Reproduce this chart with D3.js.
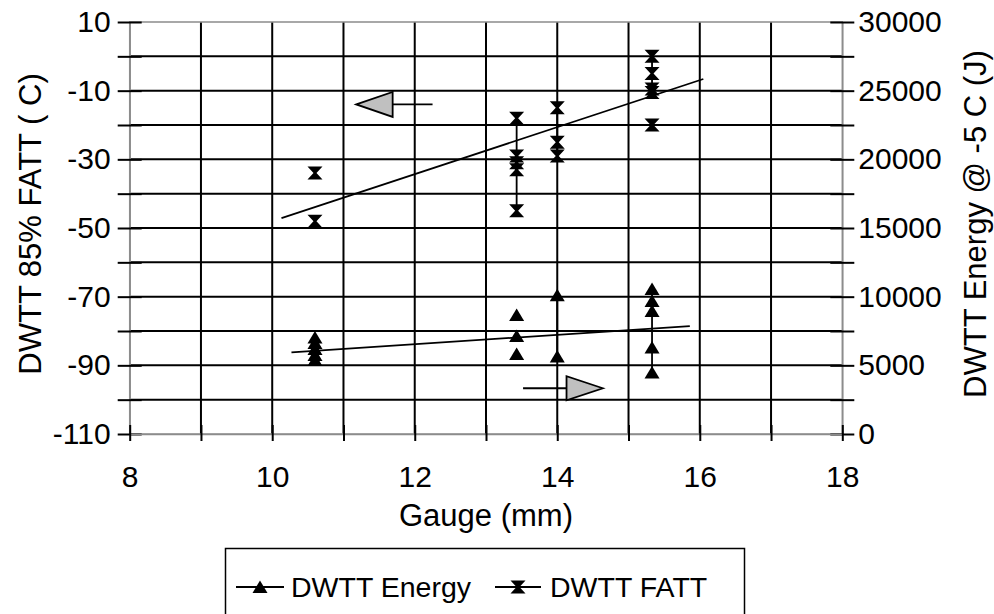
<!DOCTYPE html>
<html><head><meta charset="utf-8">
<script src="https://cdn.jsdelivr.net/npm/d3@7"></script>
<style>body{margin:0;background:#fff} text{font-family:"Liberation Sans",Arial,sans-serif;fill:#000}</style>
</head><body><svg id="c" width="994" height="614"></svg>
<script>
// ---------- data ----------
const xTickLabels = [8, 10, 12, 14, 16, 18];
const leftTickLabels = [-110, -90, -70, -50, -30, -10, 10];
const rightTickLabels = [0, 5000, 10000, 15000, 20000, 25000, 30000];

// DWTT FATT (left axis); null = break in the connecting line
const fattX = [10.6, null, 10.6, null, 13.43, 13.43, 13.43, 13.43, 13.43, null, 14.0, 14.0, 14.0, null, 15.33, 15.33, 15.33, 15.33, null, 15.33];
const fattY = [-34, null, -48, null, -18, -29, -31, -33, -45, null, -15, -25, -29, null, 0, -5, -9.5, -10.5, null, -20];

// DWTT Energy (right axis)
const energyX = [10.6, 10.6, 10.6, 10.6, 10.6, null, 13.43, null, 13.43, null, 13.43, null, 14.0, 14.0, null, 15.33, 15.33, 15.33, 15.33, 15.33];
const energyY = [7030, 6630, 6190, 5750, 5390, null, 8670, null, 7140, null, 5830, null, 10100, 5650, null, 10560, 9680, 8960, 6300, 4480];

// trend lines
const fattTrendX = [10.13, 16.05];
const fattTrendY = [-47.1, -6.6];
const energyTrendX = [10.27, 15.86];
const energyTrendY = [5950, 7860];

const seriesNames = ["DWTT Energy", "DWTT FATT"];

// ---------- chart ----------
const svg = d3.select("#c");
svg.append("rect").attr("width", 994).attr("height", 614).attr("fill", "#fff");

const L = 129.7, R = 842.3, T = 22, B = 434;
const x = d3.scaleLinear().domain([8, 18]).range([L, R]);
const yL = d3.scaleLinear().domain([-110, 10]).range([B, T]);
const yR = d3.scaleLinear().domain([0, 30000]).range([B, T]);

const FS_TICK = 30, FS_TITLE = 31, FS_LEG = 28.5;
const FONT = '"Liberation Sans", Arial, sans-serif';

// gridlines
const g = svg.append("g");
g.selectAll(".vg").data(d3.range(9, 18)).join("line")
  .attr("x1", d => x(d)).attr("x2", d => x(d)).attr("y1", T).attr("y2", B)
  .attr("stroke", "#000").attr("stroke-width", 2);
g.selectAll(".hg").data(d3.range(-100, 10, 10)).join("line")
  .attr("x1", L).attr("x2", R).attr("y1", d => yL(d)).attr("y2", d => yL(d))
  .attr("stroke", "#000").attr("stroke-width", 2);

// frame (gray axis lines)
svg.append("rect").attr("x", L).attr("y", T).attr("width", R - L).attr("height", B - T)
  .attr("fill", "none").attr("stroke", "#8c8c8c").attr("stroke-width", 1.5);

// left axis
const axL = d3.axisLeft(yL).tickValues(d3.range(-110, 11, 10)).tickSize(12).tickSizeOuter(0).tickPadding(7)
  .tickFormat(d => leftTickLabels.includes(d) ? d : "");
const gL = svg.append("g").attr("transform", `translate(${L},0)`).call(axL);
// right axis
const axR = d3.axisRight(yR).tickValues(d3.range(0, 30001, 2500)).tickSize(12).tickSizeOuter(0).tickPadding(4)
  .tickFormat(d => rightTickLabels.includes(d) ? d : "");
const gR = svg.append("g").attr("transform", `translate(${R},0)`).call(axR);
// bottom axis
const axB = d3.axisBottom(x).tickValues(d3.range(8, 19, 1)).tickSize(7).tickSizeOuter(0).tickPadding(25)
  .tickFormat(d => xTickLabels.includes(d) ? d : "");
const gB = svg.append("g").attr("transform", `translate(0,${B})`).call(axB);

[gL, gR, gB].forEach(a => {
  a.select(".domain").attr("stroke", "#8c8c8c").attr("stroke-width", 1.5);
  a.selectAll(".tick line").attr("stroke", "#000").attr("stroke-width", 2);
  a.selectAll("text").attr("font-size", FS_TICK).attr("font-family", FONT).attr("fill", "#000");
});
// crossing ticks
gL.selectAll(".tick line").attr("x2", -12).attr("x1", 12);
gR.selectAll(".tick line").attr("x1", -12).attr("x2", 12);
gB.selectAll(".tick line").attr("y1", -9).attr("y2", 7);

// axis titles
svg.append("text").attr("transform", `translate(30,${(T + B) / 2 - 4}) rotate(-90)`)
  .attr("text-anchor", "middle").attr("dominant-baseline", "central").attr("font-size", FS_TITLE)
  .text("DWTT 85% FATT ( C)");
svg.append("text").attr("transform", `translate(975,${(T + B) / 2 - 4}) rotate(-90)`)
  .attr("text-anchor", "middle").attr("dominant-baseline", "central").attr("font-size", FS_TITLE)
  .text("DWTT Energy @ -5 C (J)");
svg.append("text").attr("x", (L + R) / 2).attr("y", 515)
  .attr("text-anchor", "middle").attr("dominant-baseline", "central").attr("font-size", FS_TITLE)
  .text("Gauge (mm)");

// trend lines
const line = d3.line().defined(d => d[0] !== null && d[1] !== null);
svg.append("path").attr("d", d3.line()(fattTrendX.map((v, i) => [x(v), yL(fattTrendY[i])])))
  .attr("stroke", "#000").attr("stroke-width", 1.8).attr("fill", "none");
svg.append("path").attr("d", d3.line()(energyTrendX.map((v, i) => [x(v), yR(energyTrendY[i])])))
  .attr("stroke", "#000").attr("stroke-width", 1.8).attr("fill", "none");

// series lines
const fattPts = fattX.map((v, i) => v === null ? [null, null] : [x(v), yL(fattY[i])]);
const enPts = energyX.map((v, i) => v === null ? [null, null] : [x(v), yR(energyY[i])]);
svg.append("path").attr("d", line(fattPts)).attr("stroke", "#000").attr("stroke-width", 1.8).attr("fill", "none");
svg.append("path").attr("d", line(enPts)).attr("stroke", "#000").attr("stroke-width", 1.8).attr("fill", "none");

// markers
const tri = "M0,-6.5L7.5,6L-7.5,6Z";
const hour = "M-7.5,-6.5L7.5,-6.5L1.5,0L7.5,6.5L-7.5,6.5L-1.5,0Z";
svg.selectAll(".mf").data(fattPts.filter(p => p[0] !== null)).join("path")
  .attr("d", hour).attr("transform", d => `translate(${d[0]},${d[1]})`).attr("fill", "#000");
svg.selectAll(".me").data(enPts.filter(p => p[0] !== null)).join("path")
  .attr("d", tri).attr("transform", d => `translate(${d[0]},${d[1]})`).attr("fill", "#000");

// arrows (annotations in data units)
function arrow(x0, x1, xBase, yPix, half) {
  svg.append("line").attr("x1", x(x0)).attr("x2", x(xBase)).attr("y1", yPix).attr("y2", yPix)
    .attr("stroke", "#000").attr("stroke-width", 1.8);
  svg.append("path").attr("d", `M${x(x1)},${yPix}L${x(xBase)},${yPix - half}L${x(xBase)},${yPix + half}Z`)
    .attr("fill", "#c0c0c0").attr("stroke", "#000").attr("stroke-width", 1.8);
}
arrow(12.25, 11.18, 11.69, yL(-14), 12.5);
arrow(13.52, 14.64, 14.13, yR(3330), 12);

// legend
svg.append("rect").attr("x", 225.5).attr("y", 548.5).attr("width", 519).attr("height", 90)
  .attr("fill", "none").attr("stroke", "#000").attr("stroke-width", 1.5);
const legY = 587;
const legItems = [
  { name: seriesNames[0], x0: 236, x1: 284, tx: 291, shape: tri },
  { name: seriesNames[1], x0: 495, x1: 541, tx: 550, shape: hour }
];
legItems.forEach(it => {
  svg.append("line").attr("x1", it.x0).attr("x2", it.x1).attr("y1", legY).attr("y2", legY)
    .attr("stroke", "#000").attr("stroke-width", 1.8);
  svg.append("path").attr("d", it.shape).attr("transform", `translate(${(it.x0 + it.x1) / 2},${legY})`).attr("fill", "#000");
  svg.append("text").attr("x", it.tx).attr("y", legY).attr("dominant-baseline", "central")
    .attr("font-size", FS_LEG).text(it.name);
});
</script></body></html>
